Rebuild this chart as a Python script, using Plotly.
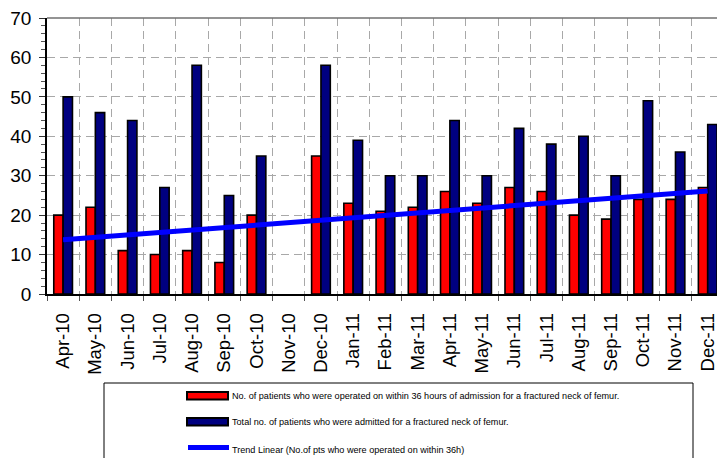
import numpy as np
import plotly.graph_objects as go

# Monthly fractured-neck-of-femur admissions, Apr 2010 - Dec 2011
# (no figures recorded for Nov-10)
months = ["Apr-10", "May-10", "Jun-10", "Jul-10", "Aug-10", "Sep-10", "Oct-10",
          "Nov-10", "Dec-10", "Jan-11", "Feb-11", "Mar-11", "Apr-11", "May-11",
          "Jun-11", "Jul-11", "Aug-11", "Sep-11", "Oct-11", "Nov-11", "Dec-11"]
operated_36h = [20, 22, 11, 10, 11, 8, 20, None, 35, 23, 21, 22, 26, 23, 27, 26,
                20, 19, 24, 24, 27]
total_admitted = [50, 46, 44, 27, 58, 25, 35, None, 58, 39, 30, 30, 44, 30, 42, 38,
                  40, 30, 49, 36, 43]
y_ticks = [0, 10, 20, 30, 40, 50, 60, 70]

name_operated = ("No. of patients who were operated on within 36 hours of "
                 "admission for a fractured neck of femur.")
name_total = "Total no. of patients who were admitted for a fractured neck of femur."
name_trend = "Trend Linear (No.of pts who were operated on within 36h)"

# Linear trend of the operated-within-36h series; the empty month counts as zero
x_idx = np.arange(len(months))
op_for_fit = np.array([0 if v is None else v for v in operated_36h], dtype=float)
slope, intercept = np.polyfit(x_idx, op_for_fit, 1)
trend = intercept + slope * x_idx

W, H = 717, 458
ML, MR, MT, MB = 47, 0, 18, 164
CAT_PX = 32.23


def px_x(p):
    return (p - ML) / (W - ML - MR)


def px_y(p):
    return (H - MB - p) / (H - MT - MB)


fig = go.Figure()
fig.add_trace(go.Bar(x=x_idx, y=operated_36h, name=name_operated,
                     marker=dict(color="#FF0000", line=dict(color="black", width=1.6))))
fig.add_trace(go.Bar(x=x_idx, y=total_admitted, name=name_total,
                     marker=dict(color="#000080", line=dict(color="black", width=1.6))))
fig.add_trace(go.Scatter(x=x_idx, y=trend, mode="lines", name=name_trend,
                         line=dict(color="#0000FF", width=5)))

x_right = -0.5 + (W - ML - MR) / CAT_PX

grid_col = "#A8A8A8"
fig.update_xaxes(
    range=[-0.5, x_right],
    tickmode="array", tickvals=list(x_idx), ticktext=months,
    tickangle=-90, ticks="", showgrid=False,
    tickfont=dict(family="Liberation Sans, Arial, sans-serif", size=18.5, color="black"),
    ticklabelstandoff=10, ticklabeloverflow="allow",
    showline=True, linecolor="black", linewidth=1.5,
    minor=dict(tick0=-0.5, dtick=1, ticks="outside", ticklen=5, tickcolor="#555",
               showgrid=True, gridcolor=grid_col, griddash="8px,5px", gridwidth=1),
    zeroline=False,
)
fig.update_yaxes(
    range=[0, 70], tickmode="array", tickvals=y_ticks,
    ticks="outside", ticklen=6, tickcolor="#333", tickwidth=1,
    tickfont=dict(family="Liberation Sans, Arial, sans-serif", size=19, color="black"),
    ticklabelstandoff=4,
    showgrid=True, gridcolor=grid_col, griddash="8px,5px", gridwidth=1,
    showline=True, linecolor="black", linewidth=1.5,
    minor=dict(dtick=2, ticks="outside", ticklen=4, tickcolor="#555", showgrid=False),
    zeroline=False,
)

shapes = [
    # top frame of the plot area
    dict(type="line", xref="paper", yref="paper", x0=0, x1=1, y0=1, y1=1,
         line=dict(color="#707070", width=1.5)),
    # legend frame
    dict(type="rect", xref="paper", yref="paper",
         x0=px_x(104), x1=px_x(693), y0=px_y(383), y1=px_y(475),
         line=dict(color="black", width=1), fillcolor="white", layer="below"),
    # legend swatches
    dict(type="rect", xref="paper", yref="paper",
         x0=px_x(187), x1=px_x(228), y0=px_y(392), y1=px_y(399.5),
         line=dict(color="black", width=2), fillcolor="#FF0000"),
    dict(type="rect", xref="paper", yref="paper",
         x0=px_x(187), x1=px_x(228), y0=px_y(418), y1=px_y(425.5),
         line=dict(color="black", width=2), fillcolor="#000080"),
    dict(type="line", xref="paper", yref="paper",
         x0=px_x(188), x1=px_x(229), y0=px_y(447.5), y1=px_y(447.5),
         line=dict(color="#0000FF", width=5)),
]

legend_font = dict(family="Liberation Sans, Arial, sans-serif", size=9.1, color="black")
annotations = []
for label, ypx in [(name_operated, 396), (name_total, 422), (name_trend, 450)]:
    annotations.append(dict(text=label, xref="paper", yref="paper",
                            x=px_x(230), y=px_y(ypx), xanchor="left", yanchor="middle",
                            showarrow=False, font=legend_font))

fig.update_layout(
    width=W, height=H,
    margin=dict(l=ML, r=MR, t=MT, b=MB, pad=0),
    barmode="group", bargap=0.42, bargroupgap=0,
    plot_bgcolor="white", paper_bgcolor="white",
    showlegend=False,
    shapes=shapes, annotations=annotations,
)

fig.write_html("out.html")
